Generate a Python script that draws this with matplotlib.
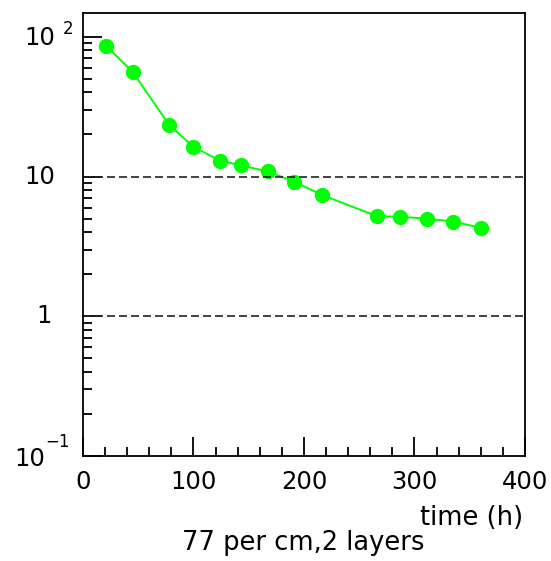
import matplotlib.pyplot as plt
import matplotlib.transforms as mtrans
import numpy as np
from matplotlib.ticker import FixedLocator, MultipleLocator, LogLocator, NullFormatter

time_h = np.array([21, 45, 78, 100, 124, 143, 167, 191, 216, 266, 287, 311, 335, 360])
values = np.array([86, 56, 23.4, 16.3, 13.0, 12.0, 10.9, 9.2, 7.4, 5.2, 5.15, 5.0, 4.76, 4.3])

ytick_vals = [100, 10, 1, 0.1]
ytick_base = ["10", "10", "1", "10"]
ytick_exp = ["2", "", "", "\u22121"]


def main():
    plt.rcParams["font.family"] = ["DejaVu Sans"]
    fig = plt.figure(figsize=(5.51, 5.61), dpi=100)
    ax = fig.add_axes([0.1506, 0.1872, 0.8022, 0.7896])

    ax.plot(time_h, values, color="#00ff00", lw=1.4, marker="o", ms=10,
            markerfacecolor="#00ff00", markeredgecolor="#00ff00")

    ax.set_yscale("log")
    ax.set_xlim(0, 400)
    ax.set_ylim(0.1, 148)

    for yv in (10, 1):
        ax.axhline(yv, color="#222222", ls=(0, (4.8, 2.4)), lw=1.2)

    ax.xaxis.set_major_locator(MultipleLocator(100))
    ax.xaxis.set_minor_locator(MultipleLocator(20))
    ax.yaxis.set_major_locator(FixedLocator(ytick_vals))
    ax.yaxis.set_minor_locator(LogLocator(base=10, subs=np.arange(2, 10)))
    ax.yaxis.set_minor_formatter(NullFormatter())
    ax.set_yticklabels([])

    ax.tick_params(which="both", direction="in", top=False, right=False,
                   width=1.3, colors="black")
    ax.tick_params(which="major", length=14)
    ax.tick_params(which="minor", length=6.5)
    ax.tick_params(axis="x", labelsize=17.5, pad=10)

    for s in ax.spines.values():
        s.set_linewidth(1.3)

    # ROOT-style y labels: base right-aligned, exponent set up and to the right
    ytr = ax.get_yaxis_transform()
    base_dx = {100: -28, 10: -28, 1: -31, 0.1: -38}
    base_dy = {100: -1, 10: 0, 1: 0, 0.1: -3}
    for yv, b, e in zip(ytick_vals, ytick_base, ytick_exp):
        t = mtrans.offset_copy(ytr, fig=fig, x=base_dx[yv], y=base_dy[yv], units="dots")
        ax.text(0, yv, b, transform=t, ha="right", va="center", fontsize=17.5)
        if e:
            te = mtrans.offset_copy(ytr, fig=fig, x=base_dx[yv] + 8 if yv > 1 else base_dx[yv],
                                    y=base_dy[yv] + (9 if yv > 1 else 17), units="dots")
            ax.text(0, yv, e, transform=te, ha="left", va="center", fontsize=12)

    fig.text(0.949, 0.0766, "time (h)", ha="right", va="center", fontsize=18.5)
    fig.text(0.55, 0.032, "77 per cm,2 layers", ha="center", va="center", fontsize=18.5)

    fig.savefig("out.png", dpi=100)


if __name__ == "__main__":
    main()
